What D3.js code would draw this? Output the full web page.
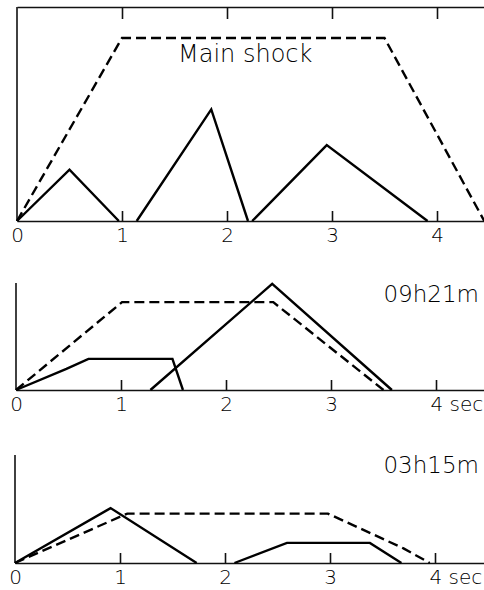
<!DOCTYPE html>
<html>
<head>
<meta charset="utf-8">
<script src="https://cdn.jsdelivr.net/npm/d3@7"></script>
<style>
  html, body { margin: 0; padding: 0; background: #fff; }
  svg { display: block; }
  .lbl { font-family: 'DejaVu Sans', sans-serif; font-weight: 200; fill: #000; }
  .tick text { font-family: 'DejaVu Sans', sans-serif; font-weight: 200; font-size: 20px; fill: #000; }
  .tick line, .domain { stroke: #111; stroke-width: 1.6; }
</style>
</head>
<body>
<svg id="chart" width="484" height="590"></svg>
<script>
// time ticks (seconds)
const secTicks = [0, 1, 2, 3, 4];

// main shock: [sec, relative amplitude]
const mainDashed = [[0, 0], [1.0, 1], [3.5, 1], [4.45, 0]];
const mainSolidA = [[0, 0], [0.5, 0.28], [0.97, 0]];
const mainSolidB = [[1.14, 0], [1.85, 0.61], [2.2, 0]];
const mainSolidC = [[2.24, 0], [2.95, 0.415], [3.91, 0]];

// 09h21m aftershock
const a0921Dashed = [[0, 0], [1.01, 0.48], [2.45, 0.48], [3.5, 0]];
const a0921SolidA = [[0, 0], [0.48, 0.115], [0.69, 0.17], [1.49, 0.17], [1.59, 0]];
const a0921SolidB = [[1.28, 0], [2.44, 0.58], [3.58, 0]];

// 03h15m aftershock
const a0315Dashed = [[0, 0], [1.07, 0.27], [2.98, 0.27], [3.7, 0.08], [3.95, 0]];
const a0315SolidA = [[0, 0], [0.91, 0.30], [1.73, 0]];
const a0315SolidB = [[2.09, 0], [2.59, 0.11], [3.38, 0.11], [3.68, 0]];

const svg = d3.select('#chart');
const pxPerSec = 105;
const pxPerUnit = 183;

const panels = [
  { x0: 17, base: 221, top: 7, box: true, last: '4',
    dashed: mainDashed, solid: [mainSolidA, mainSolidB, mainSolidC],
    label: 'Main shock', lx: 178, ly: 62, anchor: 'start', fs: 24 },
  { x0: 16, base: 390, top: 283, box: false, last: '4 sec',
    dashed: a0921Dashed, solid: [a0921SolidA, a0921SolidB],
    label: '09h21m', lx: 479, ly: 302, anchor: 'end', fs: 23 },
  { x0: 15, base: 563, top: 455, box: false, last: '4 sec',
    dashed: a0315Dashed, solid: [a0315SolidA, a0315SolidB],
    label: '03h15m', lx: 479, ly: 473, anchor: 'end', fs: 23 },
];

panels.forEach((p) => {
  const x = d3.scaleLinear().domain([0, (484 - p.x0) / pxPerSec]).range([p.x0, 484]);
  const y = d3.scaleLinear().domain([0, 1]).range([p.base, p.base - pxPerUnit]);
  const g = svg.append('g');

  // bottom axis, ticks pointing up
  const bottom = g.append('g')
    .attr('transform', `translate(0,${p.base})`)
    .call(d3.axisBottom(x).tickValues(secTicks)
      .tickSizeInner(-10).tickSizeOuter(0).tickPadding(7)
      .tickFormat(d => (d === 4 ? p.last : d)));
  bottom.selectAll('.tick').filter(d => d === 0).select('line').remove();
  if (p.last !== '4') {
    bottom.selectAll('.tick text').filter(d => d === 4)
      .attr('text-anchor', 'start').attr('x', -6);
  }

  // left axis
  g.append('line')
    .attr('x1', p.x0).attr('x2', p.x0)
    .attr('y1', p.base).attr('y2', p.top)
    .attr('stroke', '#111').attr('stroke-width', 1.6);

  if (p.box) {
    const topAxis = g.append('g')
      .attr('transform', `translate(0,${p.top})`)
      .call(d3.axisTop(x).tickValues(secTicks)
        .tickSizeInner(-12).tickSizeOuter(0).tickFormat(''));
    topAxis.selectAll('.tick').filter(d => d === 0).remove();
  }

  const line = d3.line().x(d => x(d[0])).y(d => y(d[1]));

  g.append('path')
    .attr('d', line(p.dashed))
    .attr('fill', 'none')
    .attr('stroke', '#000')
    .attr('stroke-width', 2.4)
    .attr('stroke-dasharray', '10,5');

  p.solid.forEach((s) => {
    g.append('path')
      .attr('d', line(s))
      .attr('fill', 'none')
      .attr('stroke', '#000')
      .attr('stroke-width', 2.4)
      .attr('stroke-linejoin', 'miter');
  });

  g.append('text')
    .attr('class', 'lbl')
    .attr('x', p.lx).attr('y', p.ly)
    .attr('text-anchor', p.anchor)
    .attr('font-size', p.fs)
    .text(p.label);
});
</script>
</body>
</html>
